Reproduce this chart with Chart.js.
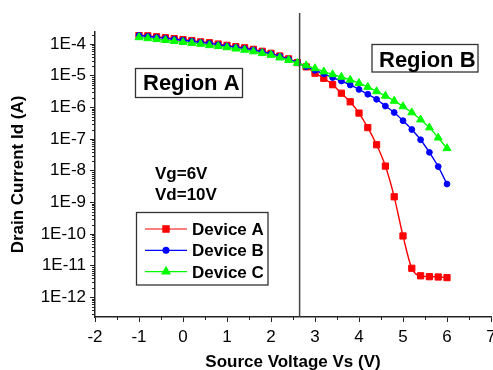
<html>
  <head>
    <script src="https://cdn.jsdelivr.net/npm/chart.js"></script>
    <style>
      body { margin: 0; background: #fff; overflow: hidden; }
      #wrap { width: 493px; height: 370px; overflow: hidden; }
    </style>
  </head>

  <body>
    <div id="wrap">
      <canvas id="myChart" width="510" height="370"></canvas>
    </div>
    <script>
      // source voltage (V)
      const vs = [-1.0, -0.8, -0.6, -0.4, -0.2, 0.0, 0.2, 0.4, 0.6, 0.8,
        1.0, 1.2, 1.4, 1.6, 1.8, 2.0, 2.2, 2.4, 2.6, 2.8,
        3.0, 3.2, 3.4, 3.6, 3.8, 4.0, 4.2, 4.4, 4.6, 4.8,
        5.0, 5.2, 5.4, 5.6, 5.8, 6.0]

      // drain current (A)
      const deviceA = [1.95e-4, 1.82e-4, 1.70e-4, 1.58e-4, 1.48e-4, 1.38e-4, 1.29e-4, 1.17e-4, 1.10e-4, 1.00e-4,
        9.1e-5, 8.3e-5, 7.6e-5, 6.8e-5, 5.9e-5, 5.1e-5, 4.2e-5, 3.4e-5, 2.6e-5, 1.9e-5,
        1.2e-5, 8.3e-6, 5.2e-6, 2.8e-6, 1.5e-6, 6.6e-7, 2.3e-7, 6.6e-8, 1.4e-8, 1.5e-9,
        8.7e-11, 8.3e-12, 4.8e-12, 4.5e-12, 4.4e-12, 4.2e-12]
      const deviceB = [1.86e-4, 1.74e-4, 1.62e-4, 1.51e-4, 1.41e-4, 1.32e-4, 1.23e-4, 1.12e-4, 1.05e-4, 9.5e-5,
        8.7e-5, 7.9e-5, 7.2e-5, 6.5e-5, 5.6e-5, 4.9e-5, 4.1e-5, 3.3e-5, 2.6e-5, 1.95e-5,
        1.48e-5, 1.15e-5, 8.7e-6, 6.8e-6, 5.1e-6, 3.7e-6, 2.6e-6, 1.8e-6, 1.1e-6, 6.9e-7,
        3.8e-7, 2.0e-7, 9.5e-8, 3.8e-8, 1.35e-8, 3.8e-9]
      const deviceC = [1.62e-4, 1.51e-4, 1.41e-4, 1.32e-4, 1.23e-4, 1.15e-4, 1.07e-4, 1.00e-4, 9.1e-5, 8.5e-5,
        7.8e-5, 7.1e-5, 6.5e-5, 5.8e-5, 5.1e-5, 4.5e-5, 3.7e-5, 3.1e-5, 2.5e-5, 2.1e-5,
        1.7e-5, 1.35e-5, 1.1e-5, 9.1e-6, 7.4e-6, 5.8e-6, 4.4e-6, 3.2e-6, 2.3e-6, 1.6e-6,
        1.07e-6, 6.9e-7, 4.1e-7, 2.3e-7, 1.1e-7, 5.1e-8]

      const yTicks = [1e-12, 1e-11, 1e-10, 1e-9, 1e-8, 1e-7, 1e-6, 1e-5, 1e-4]
      const yTickLabels = ["1E-12", "1E-11", "1E-10", "1E-9", "1E-8", "1E-7", "1E-6", "1E-5", "1E-4"]
      const xMin = -2
      const xMax = 7
      const yMin = 2.4e-13
      const yMax = 2.4e-4
      const regionBoundary = 2.65

      const FONT = "'Liberation Sans', Arial, sans-serif"

      function series(ys) {
        return vs.map(function (x, i) {
          return { x: x, y: ys[i] }
        })
      }

      const datasets = [
        {
          label: "Device A",
          data: series(deviceA),
          borderColor: "#ff0000",
          backgroundColor: "#ff0000",
          pointStyle: "rect",
          pointRadius: 4.4,
          order: 3
        },
        {
          label: "Device B",
          data: series(deviceB),
          borderColor: "#0000ff",
          backgroundColor: "#0000ff",
          pointStyle: "circle",
          pointRadius: 2.9,
          order: 2
        },
        {
          label: "Device C",
          data: series(deviceC),
          borderColor: "#00ff00",
          backgroundColor: "#00ff00",
          pointStyle: "triangle",
          pointRadius: 4.6,
          order: 1
        }
      ]
      datasets.forEach(function (d) {
        d.borderWidth = 1.4
        d.pointBorderWidth = 1
        d.pointBorderColor = d.borderColor
        d.cubicInterpolationMode = "monotone"
        d.showLine = true
      })

      // minor ticks on both axes
      const minorTicks = {
        id: "minorTicks",
        afterDraw(chart) {
          const { ctx, chartArea: a, scales } = chart
          ctx.save()
          ctx.strokeStyle = "#222"
          ctx.lineWidth = 1
          ctx.beginPath()
          for (let v = xMin + 0.5; v < xMax; v += 1) {
            const px = Math.round(scales.x.getPixelForValue(v)) + 0.5
            ctx.moveTo(px, a.bottom)
            ctx.lineTo(px, a.bottom + 3)
          }
          for (let e = -13; e <= -4; e++) {
            for (let m = 2; m <= 9; m++) {
              const v = m * Math.pow(10, e)
              if (v < yMin || v > yMax) continue
              const py = Math.round(scales.y.getPixelForValue(v)) + 0.5
              ctx.moveTo(a.left - 3, py)
              ctx.lineTo(a.left, py)
            }
          }
          ctx.stroke()
          ctx.restore()
        }
      }

      // region line, labels and legend
      const notes = {
        id: "notes",
        afterDraw(chart) {
          const { ctx, chartArea: a, scales } = chart
          ctx.save()

          const lx = scales.x.getPixelForValue(regionBoundary)
          ctx.strokeStyle = "#444"
          ctx.lineWidth = 1.5
          ctx.beginPath()
          ctx.moveTo(lx, 13)
          ctx.lineTo(lx, a.bottom)
          ctx.stroke()

          ctx.fillStyle = "#000"
          ctx.textBaseline = "alphabetic"
          ctx.textAlign = "left"

          ctx.strokeStyle = "#333"
          ctx.lineWidth = 1.3
          ctx.strokeRect(135.5, 68.5, 107, 29)
          ctx.strokeRect(372, 44.5, 106, 27.5)
          ctx.font = "bold 22px " + FONT
          ctx.fillText("Region A", 143, 90)
          ctx.fillText("Region B", 379, 66.5)

          ctx.font = "bold 17px " + FONT
          ctx.fillText("Vg=6V", 155, 178.5)
          ctx.fillText("Vd=10V", 155, 199.5)

          ctx.strokeStyle = "#333"
          ctx.lineWidth = 1.3
          ctx.strokeRect(136.5, 212.5, 131.5, 72.5)
          chart.data.datasets.forEach(function (d, i) {
            const y = 229 + i * 21.3
            ctx.strokeStyle = d.borderColor
            ctx.lineWidth = 1.2
            ctx.beginPath()
            ctx.moveTo(145, y)
            ctx.lineTo(187, y)
            ctx.stroke()
            ctx.fillStyle = d.backgroundColor
            Chart.helpers.drawPoint(ctx, {
              pointStyle: d.pointStyle,
              radius: d.pointRadius,
              rotation: 0,
              borderWidth: 1
            }, 166, y)
            ctx.fillStyle = "#000"
            ctx.font = "bold 17px " + FONT
            ctx.fillText(d.label, 192, y + 6)
          })
          ctx.restore()
        }
      }

      const config = {
        type: "scatter",
        data: { datasets: datasets },
        plugins: [minorTicks, notes],
        options: {
          responsive: false,
          animation: false,
          devicePixelRatio: 1,
          layout: { padding: { top: 32, right: 19, left: 0, bottom: 0 } },
          plugins: {
            legend: { display: false },
            tooltip: { enabled: false }
          },
          scales: {
            x: {
              type: "linear",
              position: "bottom",
              min: xMin,
              max: xMax,
              afterFit: function (s) { s.height = 53 },
              ticks: {
                stepSize: 1,
                color: "#000",
                padding: 5,
                font: { family: FONT, size: 17 }
              },
              grid: { drawOnChartArea: false, tickLength: 5, color: "#222", tickWidth: 1 },
              border: { color: "#222", width: 1.5 },
              title: {
                display: true,
                text: "Source Voltage Vs (V)",
                color: "#000",
                padding: { top: 0, bottom: -1 },
                font: { family: FONT, size: 17, weight: "bold", lineHeight: 1 }
              }
            },
            y: {
              type: "logarithmic",
              min: yMin,
              max: yMax,
              afterFit: function (s) { s.width = 95 },
              afterBuildTicks: function (s) {
                s.ticks = yTicks.map(function (v) { return { value: v } })
              },
              ticks: {
                color: "#000",
                padding: 4,
                font: { family: FONT, size: 17 },
                callback: function (v) {
                  const i = yTicks.findIndex(function (t) { return Math.abs(t - v) / t < 1e-6 })
                  return i >= 0 ? yTickLabels[i] : ""
                }
              },
              grid: { drawOnChartArea: false, tickLength: 5, color: "#222", tickWidth: 1 },
              border: { color: "#222", width: 1.5 },
              title: {
                display: true,
                text: "Drain Current Id (A)",
                color: "#000",
                padding: { top: 10, bottom: 0 },
                font: { family: FONT, size: 17, weight: "bold", lineHeight: 1 }
              }
            }
          }
        }
      }
      const myChart = new Chart(document.getElementById("myChart"), config)
    </script>
  </body>
</html>
